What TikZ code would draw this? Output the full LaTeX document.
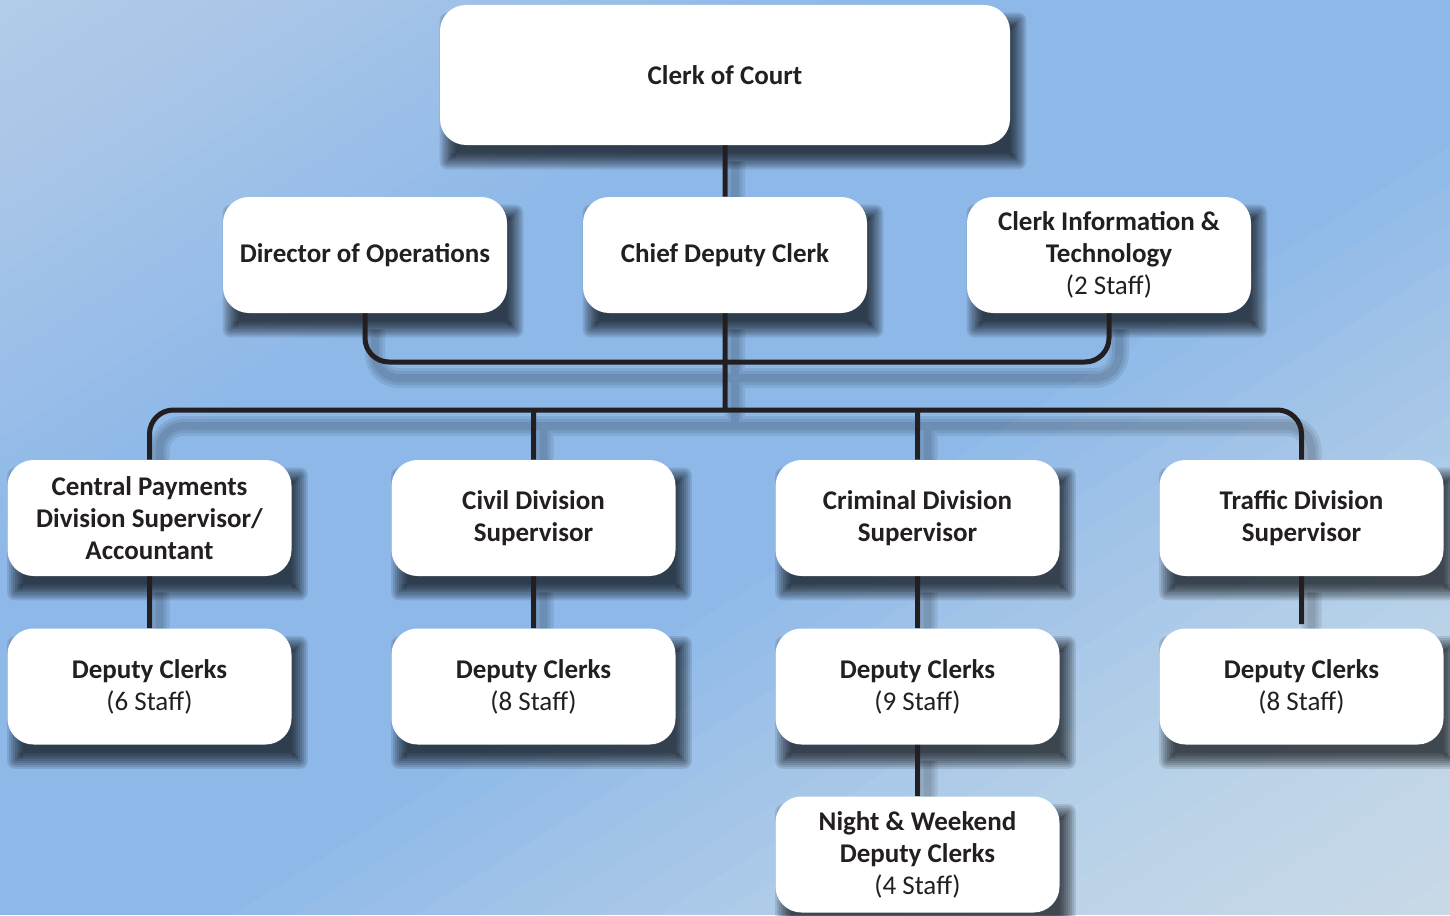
\documentclass[tikz,border=0pt]{standalone}
\usepackage{fontspec}
\setmainfont{Carlito}

\definecolor{ink}{HTML}{231F20}
\definecolor{sky}{HTML}{8DB8E8}

\pgfdeclarelayer{back}
\pgfdeclarelayer{shade}
\pgfsetlayers{back,shade,main}

\newcommand{\staffline}[1]{{\mdseries #1}}
% connectors, drawn once for the shadow and once in ink
\newcommand{\wiring}{
    (court.south) -- (chief.north)
    (chief.south) -- (bus)
    (ops.south) |- (tie) -| (tech.south)
    (central.north) |- (bus) -| (traffic.north)
    (civil.north) -- (civil.north |- bus)
    (criminal.north) -- (criminal.north |- bus)
    (central.south) -- (dcpay.north)
    (civil.south) -- (dccivil.north)
    (criminal.south) -- (dccrim.north)
    (traffic.south) -- ([yshift=2pt]dctraffic.north)
    (dccrim.south) -- (night.north)
}

\begin{document}
\begin{tikzpicture}[
            x = .5pt, y = .5pt,
            every node/.style={text=ink},
            post/.style={fill=white, rounded corners=13pt, inner sep=0pt, align=center,
                minimum width=142pt, minimum height=58pt,
                font=\fontsize{13.5}{16}\selectfont\bfseries},
            line/.style={draw=ink, line width=2.5pt, rounded corners=12pt},
            lineshade/.style={draw=black, opacity=.08, rounded corners=12pt,
                transform canvas={shift={(5pt,-8pt)}}},
            dropshade/.style={fill=black, opacity=.11},
            glow/.style={fill=white, opacity=#1},
            ]

        \useasboundingbox (0,-915) rectangle (1450,0);
        \begin{pgfonlayer}{back}
            \fill[sky] (0,-915) rectangle (1450,0);
            % lighter corners, top left and bottom right
            \foreach \k in {1, ..., 20} {
                \fill[glow=.025] (0,0) -- (43.5*\k,0) -- (0,-27.45*\k) -- cycle;
                \fill[glow=.045] (1450,-915) -- (1450-60.9*\k,-915) -- (1450,-915+38.43*\k) -- cycle;
            }
        \end{pgfonlayer}

        \node[post, minimum width=285pt, minimum height=70pt] (court) at (725,-75) {Clerk of Court};

        \node[post] (ops) at (365,-255) {Director of Operations};
        \node[post] (chief) at (725,-255) {Chief Deputy Clerk};
        \node[post] (tech) at (1109,-255) {Clerk Information \&\\Technology\\\staffline{(2 Staff)}};

        \node[post] (central) at (149.5,-518) {Central Payments\\Division Supervisor/\\Accountant};
        \node[post] (civil) at (533.5,-518) {Civil Division\\Supervisor};
        \node[post] (criminal) at (917.5,-518) {Criminal Division\\Supervisor};
        \node[post] (traffic) at (1301.5,-518) {Traffic Division\\Supervisor};

        \foreach \name/\x/\n in {dcpay/149.5/6, dccivil/533.5/8, dccrim/917.5/9, dctraffic/1301.5/8}
            \node[post] (\name) at (\x,-686.5) {Deputy Clerks\\\staffline{(\n\ Staff)}};

        \node[post] (night) at (917.5,-854.5) {Night \& Weekend\\Deputy Clerks\\\staffline{(4 Staff)}};

        \coordinate (tie) at (725,-362);
        \coordinate (bus) at (725,-410);

        \begin{pgfonlayer}{shade}
            % soft drop shadows of the boxes
            \foreach \n in {court, ops, chief, tech, central, civil, criminal, traffic,
                    dcpay, dccivil, dccrim, dctraffic, night}
                \foreach \b [evaluate=\b as \r using 13+\b] in {-4, ..., 4}
                    \fill[dropshade, rounded corners=\r pt]
                        ([shift={(4pt-\b pt,-8pt-\b pt)}]\n.south west)
                        rectangle ([shift={(4pt+\b pt,-8pt+\b pt)}]\n.north east);
            \foreach \w in {10, 7, 4}
                \path[lineshade, line width=\w pt] \wiring;
        \end{pgfonlayer}
        \draw[line] \wiring;
    \end{tikzpicture}
\end{document}
